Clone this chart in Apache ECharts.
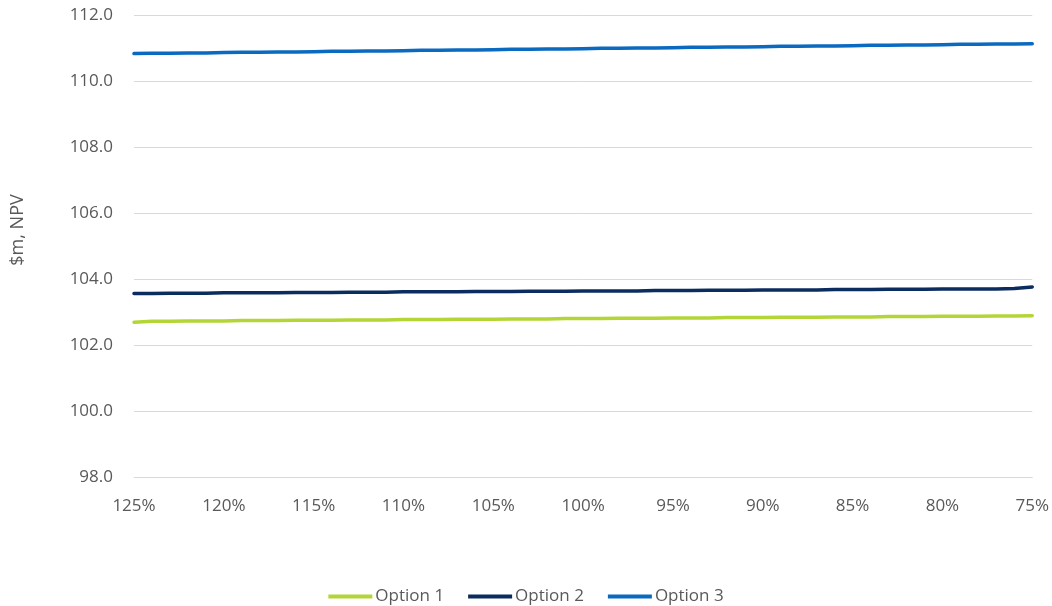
<!DOCTYPE html>
<html>
<head>
<meta charset="utf-8">
<script src="https://cdn.jsdelivr.net/npm/echarts@6/dist/echarts.min.js"></script>
<style>
html,body{margin:0;padding:0;background:#fff;}
#chart{width:1052px;height:606px;}
</style>
</head>
<body>
<div id="chart"></div>
<script>
const categories = ["125%","124%","123%","122%","121%","120%","119%","118%","117%","116%","115%","114%","113%","112%","111%","110%","109%","108%","107%","106%","105%","104%","103%","102%","101%","100%","99%","98%","97%","96%","95%","94%","93%","92%","91%","90%","89%","88%","87%","86%","85%","84%","83%","82%","81%","80%","79%","78%","77%","76%","75%"];

const option1 = [102.69,102.72,102.72,102.73,102.73,102.73,102.74,102.74,102.74,102.75,102.75,102.75,102.76,102.76,102.76,102.77,102.77,102.77,102.78,102.78,102.78,102.79,102.79,102.79,102.80,102.80,102.80,102.81,102.81,102.81,102.82,102.82,102.82,102.83,102.83,102.83,102.84,102.84,102.84,102.85,102.85,102.85,102.86,102.86,102.86,102.87,102.87,102.87,102.88,102.88,102.89];

const option2 = [103.56,103.56,103.57,103.57,103.57,103.58,103.58,103.58,103.58,103.59,103.59,103.59,103.60,103.60,103.60,103.61,103.61,103.61,103.61,103.62,103.62,103.62,103.63,103.63,103.63,103.64,103.64,103.64,103.64,103.65,103.65,103.65,103.66,103.66,103.66,103.67,103.67,103.67,103.67,103.68,103.68,103.68,103.69,103.69,103.69,103.70,103.70,103.70,103.70,103.71,103.76];

const option3 = [110.83,110.84,110.84,110.85,110.85,110.86,110.87,110.87,110.88,110.88,110.89,110.90,110.90,110.91,110.91,110.92,110.93,110.93,110.94,110.94,110.95,110.96,110.96,110.97,110.97,110.98,110.99,110.99,111.00,111.00,111.01,111.02,111.02,111.03,111.03,111.04,111.05,111.05,111.06,111.06,111.07,111.08,111.08,111.09,111.09,111.10,111.11,111.11,111.12,111.12,111.13];

const seriesNames = ["Option 1","Option 2","Option 3"];
const seriesColors = ["#B3D636","#0B2C5F","#0A6AC0"];
const yAxisTitle = "$m, NPV";

const chart = echarts.init(document.getElementById('chart'), null, {renderer:'canvas'});
const font = "'Open Sans', 'Liberation Sans', sans-serif";
const dataSets = [option1, option2, option3];

chart.setOption({
  animation: false,
  backgroundColor: '#ffffff',
  grid: {left: 134, right: 18, top: 15, bottom: 129, containLabel: false},
  legend: {
    top: 583,
    left: 'center',
    icon: 'rect',
    itemWidth: 44,
    itemHeight: 4,
    itemGap: 24,
    textStyle: {color: '#595959', fontSize: 17, fontFamily: font, padding: [0,0,0,-2]},
    data: seriesNames
  },
  graphic: [{
    type: 'text',
    x: 18, y: 230,
    rotation: Math.PI / 2,
    style: {text: yAxisTitle, fill: '#595959', font: '18px ' + font, align: 'center', verticalAlign: 'middle'}
  }],
  xAxis: {
    type: 'category',
    data: categories,
    boundaryGap: false,
    axisLine: {show: true, lineStyle: {color: '#d9d9d9', width: 1}},
    axisTick: {show: false},
    axisLabel: {interval: 4, color: '#595959', fontSize: 17, fontFamily: font, margin: 21},
    splitLine: {show: false}
  },
  yAxis: {
    type: 'value',
    min: 98, max: 112, interval: 2,
    axisLine: {show: false},
    axisTick: {show: false},
    axisLabel: {color: '#595959', fontSize: 17, fontFamily: font, margin: 21, formatter: v => v.toFixed(1)},
    splitLine: {show: true, lineStyle: {color: '#d9d9d9', width: 1}}
  },
  series: dataSets.map((d, i) => ({
    name: seriesNames[i],
    type: 'line',
    data: d,
    showSymbol: false,
    symbol: 'none',
    color: seriesColors[i],
    lineStyle: {color: seriesColors[i], width: 3.5, cap: 'round', join: 'round'},
    itemStyle: {color: seriesColors[i]}
  }))
});
</script>
</body>
</html>
